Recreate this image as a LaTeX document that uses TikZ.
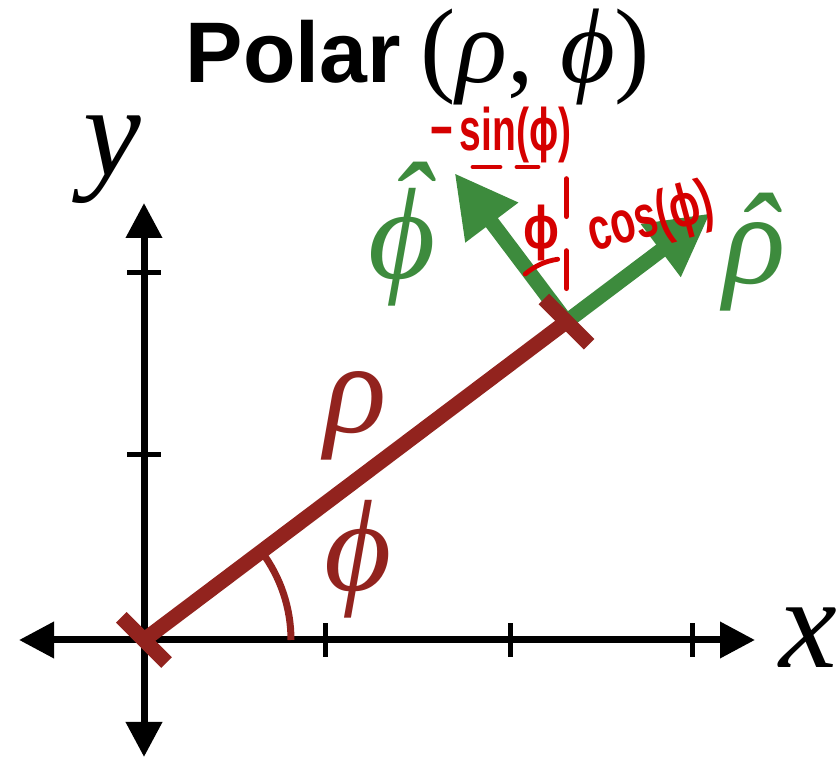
\documentclass[tikz,border=0pt]{standalone}
\usepackage{fontspec}
\usepackage{graphicx}
\setmainfont{Liberation Serif}
\newfontfamily\titlefont{Liberation Sans}
\newfontfamily\inkfont{Liberation Sans}
\usetikzlibrary{arrows.meta}
\definecolor{rodred}{RGB}{146,35,30}
\definecolor{vecgreen}{RGB}{61,139,61}
\definecolor{inkred}{RGB}{213,0,0}
\newcommand{\hatted}[1]{\accent"02C6 #1}
\tikzset{
  axis/.style={line width=3.5pt, {Triangle[length=17.5pt,width=17.5pt]}-{Triangle[length=17.5pt,width=17.5pt]}},
  tickmark/.style={line width=2.5pt},
  rod/.style={rodred, line width=7.5pt},
  unitvec/.style={vecgreen, line width=7.5pt, -{Triangle[length=31pt,width=31pt]}},
  biglab/.style={font=\fontsize{65}{70}\selectfont\itshape, inner sep=0pt},
  ink/.style={inkred, line width=2.4pt, line cap=round},
  inklab/.style={inkred, font=\fontsize{30}{32}\selectfont\inkfont\bfseries, inner sep=0pt}
}
\begin{document}
\begin{tikzpicture}[x=0.5pt, y=0.5pt]
  \useasboundingbox (0,0) rectangle (837,760);

  \coordinate (O) at (144,120);
  \coordinate (xl) at (19,120);
  \coordinate (xr) at (755,120);
  \coordinate (yb) at (144,3);
  \coordinate (yt) at (144,557);

  % axes
  \draw[axis] (xl) -- (xr);
  \draw[axis] (yb) -- (yt);
  \foreach \t in {325,510,692}
    \draw[tickmark] (\t,103) -- (\t,137);
  \foreach \t in {305,487}
    \draw[tickmark] (127,\t) -- (161,\t);

  % angle and radius
  \draw[rodred, line width=3.5pt] (O) ++(0:147) arc[start angle=0, end angle=37, radius=73.5pt];
  \path (O) ++(37:529) coordinate (P);
  \draw[rod] (O) -- (P);

  % unit vectors
  \draw[unitvec] (P) -- ++(37:180) coordinate (rhotip);
  \draw[unitvec] (P) -- ++(127:186) coordinate (phitip);

  % end bars
  \path (O) ++(135:32) coordinate (o1) ++(-45:64) coordinate (o2);
  \path (P) ++(135:32) coordinate (p1) ++(-45:64) coordinate (p2);
  \draw[rod] (o1) -- (o2);
  \draw[rod] (p1) -- (p2);

  % handwritten notes
  \path (P) ++(0,143) coordinate (vtop);
  \draw[ink, dash pattern=on 19pt off 17pt] (vtop) -- (P);
  \draw[ink] (P) ++(98:63) arc[start angle=98, end angle=131, radius=31.5pt];
  \node[inklab] (minsin) at (501,625) {\scalebox{0.65}[1]{−\,sin(ϕ)}};
  \draw[ink] (473,593) -- (500,593);
  \draw[ink] (517,593) -- (538,593);
  \node[inklab] (smallphi) at (541,527) {\scalebox{0.8}[1]{ϕ}};
  \node[inklab, rotate=15] (cosphi) at (651,540) {\scalebox{0.68}[1]{cos(ϕ)}};

  % labels
  \node[biglab, rodred] (rholab) at (356,344) {ρ};
  \node[biglab, rodred] (philab) at (358,201) {ϕ};
  \node[biglab, vecgreen] (phihat) at (402,526) {\hatted{ϕ}};
  \node[biglab, vecgreen] (rhohat) at (755,508) {\hatted{ρ}};
  \node[biglab] (ylab) at (112,600) {y};
  \node[biglab] (xlab) at (808,122) {x};
  \node[inner sep=0pt] (title) at (418,703)
    {{\fontsize{43}{50}\selectfont\titlefont\bfseries Polar}\hspace{10pt}{\fontsize{53}{60}\selectfont(\textit{ρ}, \textit{ϕ})}};
\end{tikzpicture}
\end{document}
